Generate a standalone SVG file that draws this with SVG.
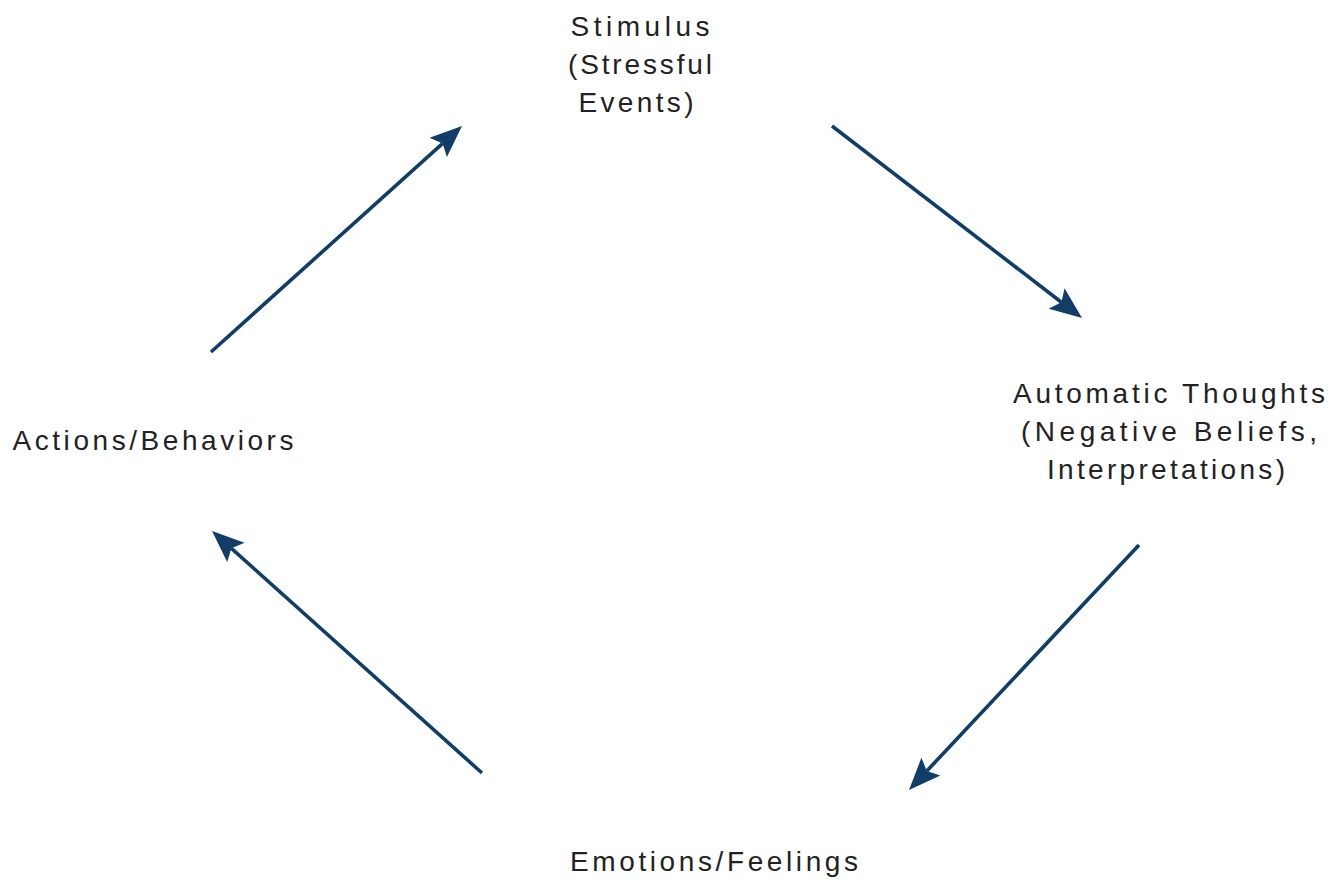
<svg xmlns="http://www.w3.org/2000/svg" width="1334" height="880" viewBox="0 0 1334 880">
<style>
.lbl{font-family:"Liberation Sans",Arial,sans-serif;font-size:28px;fill:#222;text-anchor:middle}
.edge{stroke:#113d66;stroke-width:3.6;fill:none}
</style>
<defs>
<marker id="ah" markerUnits="userSpaceOnUse" markerWidth="34" markerHeight="34" viewBox="0 0 34 34" refX="6" refY="17" orient="auto">
<path d="M0,4 L32,17 L0,30 L6,17 Z" fill="#113d66"/>
</marker>
</defs>
<rect width="1334" height="880" fill="#fff"/>
<g id="stimulus">
<text class="lbl" x="640" y="36" textLength="139" lengthAdjust="spacing">Stimulus</text>
<text class="lbl" x="640" y="74" textLength="144" lengthAdjust="spacing">(Stressful</text>
<text class="lbl" x="636" y="112" textLength="115" lengthAdjust="spacing">Events)</text>
</g>
<g id="thoughts">
<text class="lbl" x="1169" y="403" textLength="312" lengthAdjust="spacing">Automatic Thoughts</text>
<text class="lbl" x="1169" y="441" textLength="296" lengthAdjust="spacing">(Negative Beliefs,</text>
<text class="lbl" x="1166" y="479" textLength="238" lengthAdjust="spacing">Interpretations)</text>
</g>
<g id="emotions">
<text class="lbl" x="714" y="871" textLength="288" lengthAdjust="spacing">Emotions/Feelings</text>
</g>
<g id="actions">
<text class="lbl" x="153" y="450" textLength="281" lengthAdjust="spacing">Actions/Behaviors</text>
</g>
<g id="connectors">
<line class="edge" x1="211" y1="352" x2="442.7" y2="143.4" marker-end="url(#ah)"/>
<line class="edge" x1="832" y1="126" x2="1061.4" y2="302.2" marker-end="url(#ah)"/>
<line class="edge" x1="1139" y1="545" x2="926.8" y2="771" marker-end="url(#ah)"/>
<line class="edge" x1="482" y1="773" x2="231.4" y2="548.3" marker-end="url(#ah)"/>
</g>
</svg>
